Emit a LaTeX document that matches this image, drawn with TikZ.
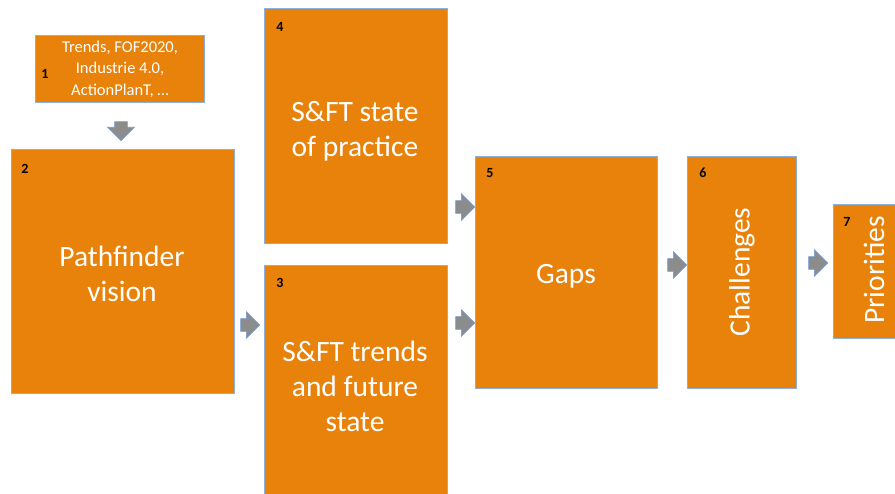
\documentclass[tikz,border=0pt]{standalone}
\usepackage{fontspec}
\setmainfont{Carlito}
\usetikzlibrary{shapes.arrows}
\definecolor{boxorange}{HTML}{E8820A}
\definecolor{boxedge}{HTML}{8DB0DA}
\definecolor{arrgray}{HTML}{8C8C8C}
\definecolor{arredge}{HTML}{6E9BD3}
\tikzset{
  box/.style={draw=boxedge, line width=0.8pt, fill=boxorange, anchor=north west, inner sep=0pt},
  num/.style={font=\fontsize{14}{16}\selectfont\bfseries, text=black, inner sep=0pt},
  big/.style={font=\fontsize{29.5}{35}\selectfont, text=white, align=center, inner sep=0pt},
  small/.style={font=\fontsize{16.5}{21.5}\selectfont, text=white, align=center, inner sep=0pt},
  blockarrow/.style={single arrow, draw=arredge, line width=0.6pt, fill=arrgray,
    minimum height=15pt, minimum width=26pt, inner sep=6pt, single arrow head extend=7pt,
    single arrow tip angle=90}
}
\begin{document}
\begin{tikzpicture}[x=1pt,y=-1pt]
\useasboundingbox (0,0) rectangle (895,494);
% boxes
\node[box, minimum width=169pt, minimum height=67pt] (b1) at (35,35) {};
\node[box, minimum width=223pt, minimum height=244pt] (b2) at (11,149) {};
\node[box, minimum width=183pt, minimum height=235pt] (b4) at (264,8) {};
\node[box, minimum width=183pt, minimum height=240pt] (b3) at (264,265) {};
\node[box, minimum width=182pt, minimum height=232pt] (b5) at (475,156) {};
\node[box, minimum width=109pt, minimum height=232pt] (b6) at (687,156) {};
\node[box, minimum width=66pt, minimum height=134pt] (b7) at (833,204) {};
% numbers
\node[num] (n1) at (45,74) {1};
\node[num] (n2) at (25,169) {2};
\node[num] (n4) at (280,27) {4};
\node[num] (n3) at (280,283) {3};
\node[num] (n5) at (490,173) {5};
\node[num] (n6) at (703,173) {6};
\node[num] (n7) at (847,222) {7};
% texts
\node[small] (t1) at (120,69) {Trends, FOF2020,\\Industrie 4.0,\\ActionPlanT, \dots};
\node[big] (t2) at (122,274) {Pathfinder\\vision};
\node[big] (t4) at (355,131) {S\&FT state\\of practice};
\node[big] (t3) at (355,386) {S\&FT trends\\and future\\state};
\node[big] (t5) at (566,276) {Gaps};
\node[big, rotate=90] (t6) at (742,272) {Challenges};
\node[big, rotate=90] (t7) at (874,270) {Priorities};
% block arrows
\node[blockarrow, shape border rotate=270] (a12) at (121,128) {};
\node[blockarrow] (a23) at (247,325) {};
\node[blockarrow] (a45) at (462,207) {};
\node[blockarrow] (a35) at (462,323) {};
\node[blockarrow] (a56) at (674,265) {};
\node[blockarrow] (a67) at (815,263) {};
\end{tikzpicture}
\end{document}
